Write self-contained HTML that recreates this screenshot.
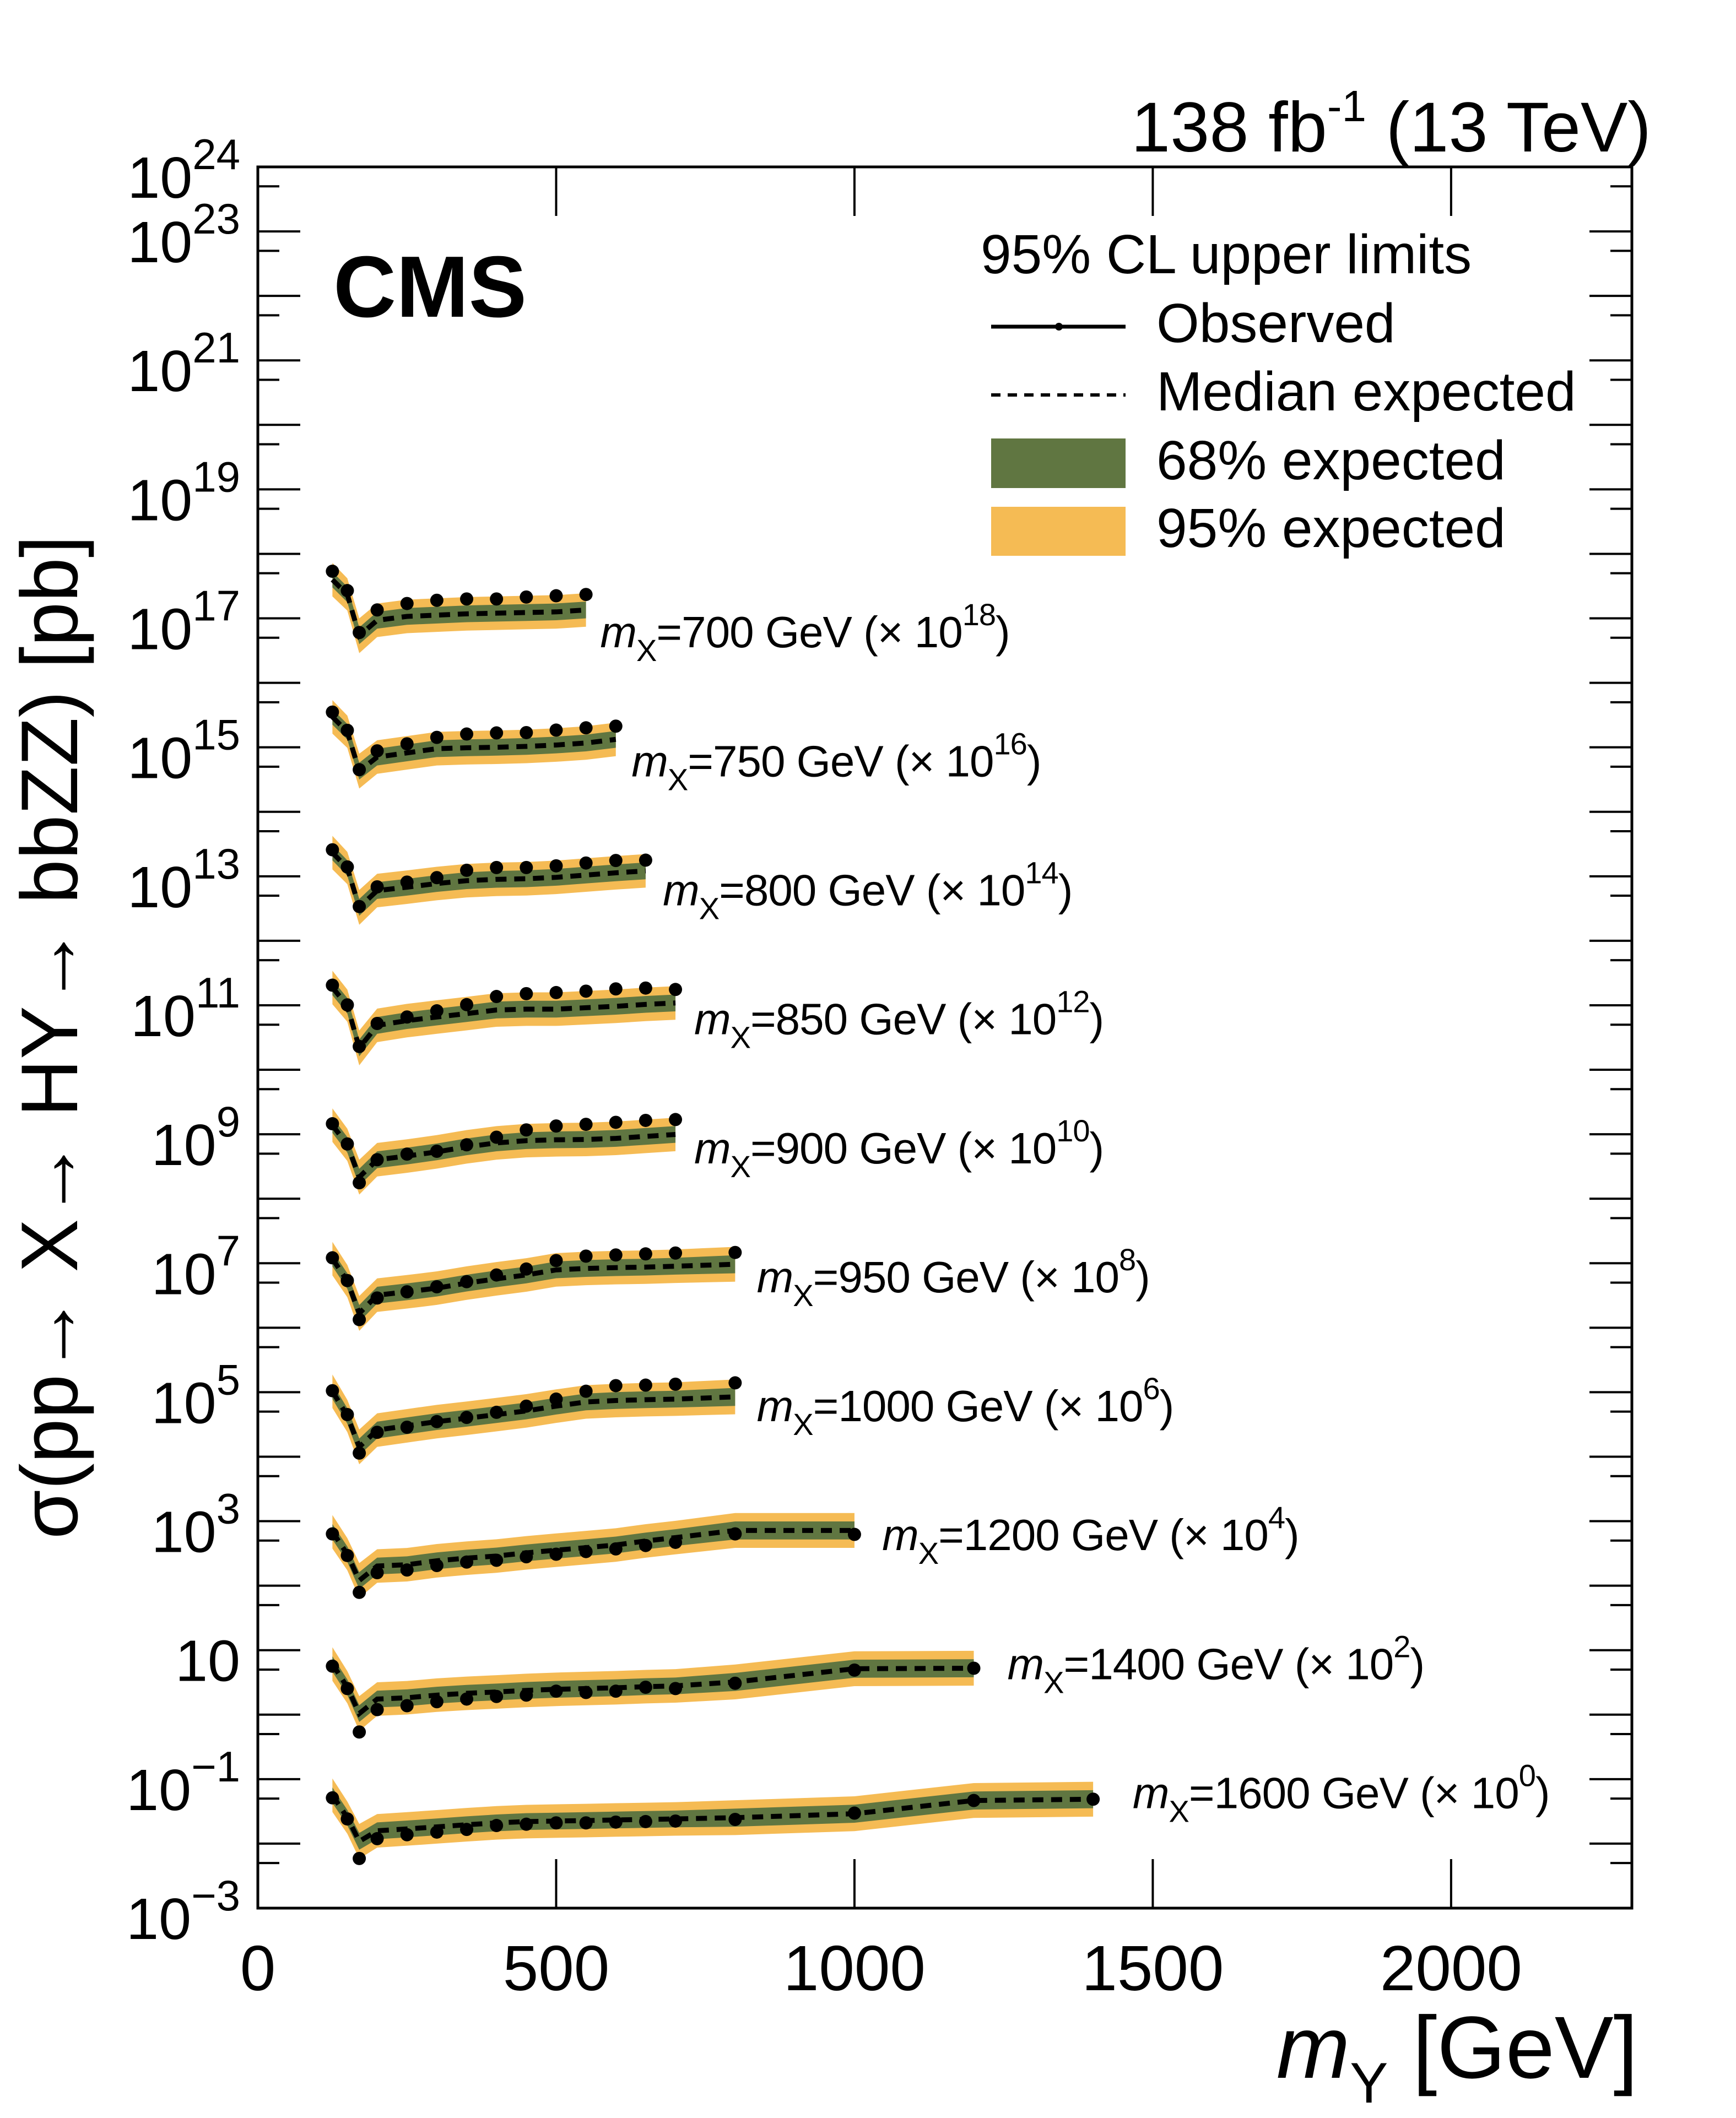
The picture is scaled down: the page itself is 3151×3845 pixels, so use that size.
<!DOCTYPE html>
<html><head><meta charset="utf-8">
<style>
html,body{margin:0;padding:0;background:#fff;}
svg{display:block;font-family:"Liberation Sans",Arial,sans-serif;}
</style></head>
<body>
<svg id="chart" width="3151" height="3845" viewBox="0 0 3151 3845" xmlns="http://www.w3.org/2000/svg">
<rect x="0" y="0" width="3151" height="3845" fill="#fff"/>
<g id="bands"></g>
<g id="lines"></g>
<g id="axes"></g>
<text x="605" y="575" font-size="158" font-weight="bold">CMS</text>
<text x="2997" y="275" font-size="128" text-anchor="end">138 fb<tspan font-size="80" dy="-55">-1</tspan><tspan dy="55"> (13 TeV)</tspan></text>
<g>
  <text x="1780" y="496" font-size="100">95% CL upper limits</text>
  <line x1="1799" y1="593" x2="2043" y2="593" stroke="#000" stroke-width="7"/>
  <circle cx="1922" cy="593" r="7" fill="#000"/>
  <text x="2099" y="621" font-size="100">Observed</text>
  <line x1="1799" y1="717" x2="2043" y2="717" stroke="#000" stroke-width="6" stroke-dasharray="17 13"/>
  <text x="2099" y="745" font-size="100">Median expected</text>
  <rect x="1799" y="796" width="244" height="90" fill="#607641"/>
  <text x="2099" y="870" font-size="100">68% expected</text>
  <rect x="1799" y="920" width="244" height="89" fill="#F5BB54"/>
  <text x="2099" y="993" font-size="100">95% expected</text>
</g>
<text transform="translate(140,1883) rotate(-90)" text-anchor="middle" font-size="146" textLength="1822" lengthAdjust="spacingAndGlyphs">σ(pp→ X→ HY→ bbZZ) [pb]</text>
<text x="2973" y="3772" font-size="160" text-anchor="end"><tspan font-style="italic">m</tspan><tspan font-size="104" dy="45">Y</tspan><tspan dy="-45"> [GeV]</tspan></text>
</svg>
<script>
// ---- data ----
const mYGrid = [125,150,170,200,250,300,350,400,450,500,550,600,650,700,800,1000,1200,1400];
const massX = [700,750,800,850,900,950,1000,1200,1400,1600];
const scaleExp = [18,16,14,12,10,8,6,4,2,0];
const nPoints = [11,12,13,14,14,15,15,16,17,18];
// log10 of limit in pb (unscaled)
const obs700 = [-0.27,-0.57,-1.22,-0.87,-0.77,-0.72,-0.70,-0.70,-0.67,-0.65,-0.63];
const exp700 = [-0.40,-0.63,-1.27,-1.03,-0.97,-0.95,-0.93,-0.92,-0.91,-0.90,-0.87];
const obs750 = [-0.454,-0.737,-1.347,-1.055,-0.946,-0.846,-0.794,-0.777,-0.772,-0.733,-0.698,-0.672];
const exp750 = [-0.528,-0.759,-1.369,-1.151,-1.086,-1.021,-1.007,-0.999,-0.986,-0.964,-0.933,-0.877];
const obs800 = [-0.589,-0.855,-1.469,-1.164,-1.090,-1.021,-0.907,-0.864,-0.864,-0.838,-0.794,-0.755,-0.750];
const exp800 = [-0.633,-0.872,-1.482,-1.221,-1.169,-1.112,-1.068,-1.047,-1.038,-1.016,-0.981,-0.946,-0.916];
const obs850 = [-0.689,-0.994,-1.639,-1.282,-1.182,-1.086,-0.990,-0.864,-0.820,-0.803,-0.781,-0.746,-0.733,-0.755];
const exp850 = [-0.724,-1.007,-1.661,-1.312,-1.238,-1.182,-1.129,-1.073,-1.060,-1.060,-1.038,-1.016,-0.986,-0.964];
const obs900 = [-0.837,-1.151,-1.752,-1.395,-1.308,-1.264,-1.164,-1.046,-0.933,-0.872,-0.846,-0.815,-0.785,-0.772];
const exp900 = [-0.859,-1.164,-1.665,-1.395,-1.338,-1.273,-1.195,-1.134,-1.099,-1.086,-1.081,-1.064,-1.033,-1.003];
const obs950 = [-0.916,-1.269,-1.874,-1.539,-1.443,-1.365,-1.286,-1.182,-1.090,-0.959,-0.890,-0.872,-0.855,-0.842,-0.833];
const exp950 = [-0.929,-1.277,-1.778,-1.495,-1.443,-1.386,-1.308,-1.242,-1.182,-1.103,-1.081,-1.068,-1.060,-1.046,-1.016];
const obs1000 = [-0.977,-1.347,-1.944,-1.622,-1.543,-1.456,-1.391,-1.312,-1.216,-1.107,-0.985,-0.898,-0.890,-0.876,-0.855];
const exp1000 = [-0.985,-1.369,-1.848,-1.587,-1.521,-1.456,-1.404,-1.347,-1.290,-1.216,-1.151,-1.129,-1.116,-1.107,-1.072];
const obs1200 = [-1.197,-1.532,-2.104,-1.798,-1.757,-1.687,-1.634,-1.606,-1.552,-1.512,-1.471,-1.430,-1.377,-1.328,-1.197,-1.205];
const exp1200 = [-1.164,-1.512,-1.920,-1.695,-1.675,-1.614,-1.573,-1.540,-1.491,-1.450,-1.410,-1.369,-1.307,-1.254,-1.144,-1.144];
const obs1400 = [-1.248,-1.595,-2.269,-1.922,-1.861,-1.799,-1.758,-1.718,-1.697,-1.636,-1.656,-1.636,-1.575,-1.595,-1.513,-1.309,-1.280];
const exp1400 = [-1.215,-1.575,-1.983,-1.758,-1.738,-1.697,-1.669,-1.648,-1.624,-1.607,-1.595,-1.583,-1.566,-1.554,-1.493,-1.288,-1.280];
const obs1600 = [-1.290,-1.617,-2.230,-1.923,-1.862,-1.821,-1.780,-1.719,-1.699,-1.678,-1.678,-1.666,-1.658,-1.650,-1.625,-1.527,-1.331,-1.311];
const exp1600 = [-1.249,-1.597,-1.964,-1.801,-1.772,-1.740,-1.707,-1.678,-1.658,-1.650,-1.642,-1.633,-1.625,-1.617,-1.597,-1.536,-1.331,-1.311];
// band half-widths in log10 per mY index
const sigma1 = [0.12,0.12,0.13,0.13,0.13,0.13,0.13,0.13,0.13,0.13,0.13,0.13,0.13,0.13,0.14,0.14,0.14,0.14];
const sigma2 = [0.26,0.25,0.27,0.26,0.26,0.26,0.26,0.26,0.26,0.26,0.26,0.26,0.26,0.26,0.27,0.27,0.27,0.27];
const xTicks = [0,500,1000,1500,2000];
const yLabelExps = [24,23,21,19,17,15,13,11,9,7,5,3,1,-1,-3];

const obsList = [obs700,obs750,obs800,obs850,obs900,obs950,obs1000,obs1200,obs1400,obs1600];
const expList = [exp700,exp750,exp800,exp850,exp900,exp950,exp1000,exp1200,exp1400,exp1600];

// ---- axes ----
const X0=468, X1=2962, Y0=303, Y1=3464, XMAX=2303, LMAX=24, LMIN=-3;
const xs = v => X0 + (X1-X0)*v/XMAX;
const ys = l => Y0 + (Y1-Y0)*(LMAX-l)/(LMAX-LMIN);
const NS='http://www.w3.org/2000/svg';
function mk(tag, attrs, parent){const e=document.createElementNS(NS,tag);for(const k in attrs)e.setAttribute(k,attrs[k]);parent.appendChild(e);return e;}
const bandsG=document.getElementById('bands'), linesG=document.getElementById('lines'), axesG=document.getElementById('axes');
const svg=document.getElementById('chart');

massX.forEach((mx,i)=>{
  const n=nPoints[i], p=scaleExp[i], obs=obsList[i], ex=expList[i];
  const xsv=mYGrid.slice(0,n).map(xs);
  const poly=(s)=>{const up=[],dn=[];for(let j=0;j<n;j++){up.push(xsv[j]+','+ys(ex[j]+p+s[j]));dn.unshift(xsv[j]+','+ys(ex[j]+p-s[j]));}return up.concat(dn).join(' ');};
  const b2=mk('polygon',{points:poly(sigma2),fill:'#F5BB54'},bandsG);
  
  
  const b1=mk('polygon',{points:poly(sigma1),fill:'#607641'},bandsG);
  
  
  const ep=[];
  for(let j=0;j<n;j++){ep.push(xsv[j]+','+ys(ex[j]+p));}
  const el=mk('polyline',{points:ep.join(' '),fill:'none',stroke:'#000','stroke-width':9,'stroke-dasharray':'20 14'},linesG);
  
  
  for(let j=0;j<n;j++){
    const c=mk('circle',{cx:xsv[j],cy:ys(obs[j]+p),r:12,fill:'#000'},linesG);
    
    
  }
  const lx=xs(mYGrid[n-1]*1.05)-4, ly=ys(p-1.45);
  const t=mk('text',{x:lx,y:ly,'font-size':80,'letter-spacing':'-1'},svg);
  
  
  t.innerHTML='<tspan font-style="italic">m</tspan><tspan font-size="56" dy="25">X</tspan><tspan dy="-25">='+mx+' GeV (× 10</tspan><tspan font-size="56" dy="-40">'+p+'</tspan><tspan dy="40">)</tspan>';
});

// frame
const fr=mk('rect',{x:X0,y:Y0,width:X1-X0,height:Y1-Y0,fill:'none',stroke:'#000','stroke-width':5},axesG);


// x ticks
xTicks.forEach(v=>{
  const x=xs(v);
  const t1=mk('line',{x1:x,y1:Y1,x2:x,y2:Y1-89,stroke:'#000','stroke-width':4},axesG);
  
  
  const t2=mk('line',{x1:x,y1:Y0,x2:x,y2:Y0+89,stroke:'#000','stroke-width':4},axesG);
  
  
  const lb=mk('text',{x:x,y:3613,'font-size':116,'text-anchor':'middle'},svg);
  
  
  lb.textContent=v;
});
// y ticks
for(let l=LMIN;l<=LMAX;l++){
  const y=ys(l);
  [[X0,X0+77],[X1,X1-77]].forEach(([a,b])=>{
    const t=mk('line',{x1:a,y1:y,x2:b,y2:y,stroke:'#000','stroke-width':4},axesG);
    
    
  });
  if(l<LMAX){
    const ym=ys(l+Math.log10(5));
    [[X0,X0+39],[X1,X1-39]].forEach(([a,b])=>{
      const t=mk('line',{x1:a,y1:ym,x2:b,y2:ym,stroke:'#000','stroke-width':4},axesG);
      
      
    });
  }
}
yLabelExps.forEach(e=>{
  const y=ys(e)+56;
  const t=mk('text',{x:436,y:y,'font-size':106,'text-anchor':'end'},svg);
  
  
  if(e===1){t.textContent='10';}
  else{t.innerHTML='10<tspan font-size="78" dy="-52">'+(e<0?'−'+(-e):e)+'</tspan>';}
});
</script>
</body></html>
